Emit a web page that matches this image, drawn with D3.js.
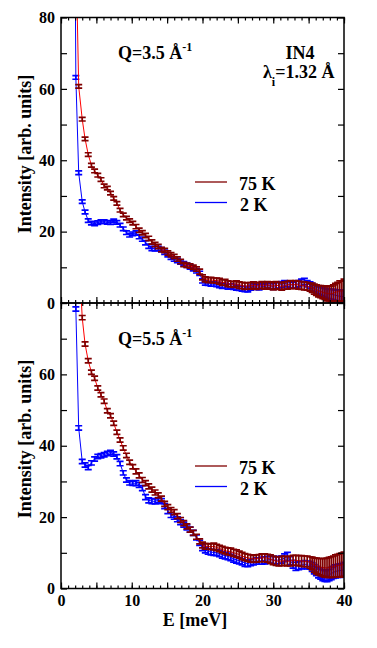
<!DOCTYPE html>
<html>
<head>
<meta charset="utf-8">
<script src="https://cdn.jsdelivr.net/npm/d3@7"></script>
<style>
body { margin: 0; background: #fff; }
text { font-family: "Liberation Serif", "Times New Roman", serif; font-weight: bold; }
</style>
</head>
<body>
<div class="chart"></div>
<script>
// energy transfer grid (meV), shared by all four runs
const energy = [
    1.8, 2.1, 2.5, 3.0, 3.4, 3.85, 4.3, 4.75, 5.2, 5.65,
    6.1, 6.55, 7.0, 7.45, 7.9, 8.35, 8.8, 9.25, 9.7, 10.15,
    10.6, 11.05, 11.5, 11.95, 12.4, 12.85, 13.3, 13.75, 14.2, 14.65,
    15.1, 15.55, 16.0, 16.45, 16.9, 17.35, 17.8, 18.25, 18.7, 19.15,
    19.6, 20.0, 20.4, 20.8, 21.2, 21.6, 22.0, 22.4, 22.8, 23.2,
    23.6, 24.0, 24.4, 24.8, 25.2, 25.6, 26.0, 26.4, 26.8, 27.2,
    27.6, 28.0, 28.4, 28.8, 29.2, 29.6, 30.0, 30.4, 30.8, 31.2,
    31.6, 32.0, 32.4, 32.8, 33.2, 33.6, 34.0, 34.4, 34.8, 35.2,
    35.5, 35.8, 36.1, 36.4, 36.7, 37.0, 37.3, 37.6, 37.9, 38.2,
    38.5, 38.8, 39.1, 39.4, 39.7, 40.0
];

// Q = 3.5 1/A
const q35_75K = [
    140, 100, 60.7, 51.5, 46.0, 41.6, 38.6, 37.0, 35.8, 34.6,
    32.8, 32.2, 30.8, 29.3, 27.9, 26.0, 24.7, 23.8, 23.1, 22.4,
    21.4, 20.4, 19.7, 18.9, 18.1, 17.1, 16.4, 15.8, 15.0, 14.7,
    14.0, 13.5, 13.0, 12.3, 11.6, 10.8, 10.6, 10.4, 10.0, 9.5,
    8.8, 7.2, 6.6, 6.4, 6.5, 6.3, 6.3, 6.1, 5.7, 5.8,
    5.4, 5.3, 5.2, 5.4, 5.0, 4.9, 4.7, 4.8, 4.8, 5.0,
    4.7, 4.9, 5.1, 4.8, 5.1, 4.9, 4.7, 5.0, 4.8, 4.6,
    4.9, 5.0, 5.2, 5.1, 5.2, 5.0, 4.9, 4.8, 4.7, 4.4,
    4.3, 3.9, 3.6, 3.3, 3.2, 3.0, 2.9, 2.6, 2.7, 2.5,
    2.8, 3.0, 3.2, 3.4, 3.3, 3.6
];
const q35_75K_err = [
    1, 1, 0.5, 0.5, 0.5, 0.5, 0.5, 0.5, 0.5, 0.5,
    0.5, 0.5, 0.5, 0.5, 0.5, 0.5, 0.5, 0.5, 0.5, 0.5,
    0.6, 0.6, 0.6, 0.6, 0.6, 0.6, 0.6, 0.6, 0.6, 0.6,
    0.6, 0.6, 0.6, 0.6, 0.6, 0.6, 0.6, 0.6, 0.6, 0.6,
    0.7, 0.7, 0.7, 0.7, 0.7, 0.7, 0.7, 0.8, 0.8, 0.8,
    0.8, 0.8, 0.8, 0.8, 0.9, 0.9, 0.9, 0.9, 0.9, 0.9,
    0.9, 0.9, 0.9, 0.9, 0.9, 1.0, 1.0, 1.0, 1.0, 1.0,
    1.0, 1.1, 1.1, 1.1, 1.1, 1.1, 1.1, 1.1, 1.1, 1.1,
    1.3, 1.4, 1.5, 1.6, 1.7, 1.8, 1.9, 2.0, 2.1, 2.2,
    2.3, 2.5, 2.6, 2.8, 2.9, 3.1
];
const q35_2K = [
    160, 63.2, 36.5, 28.4, 25.5, 23.1, 22.4, 22.2, 22.5, 22.8,
    22.8, 22.6, 22.5, 23.0, 22.6, 21.8, 20.8, 19.7, 19.0, 19.4,
    19.6, 18.6, 17.9, 16.9, 15.9, 15.3, 15.2, 15.3, 14.9, 14.2,
    13.5, 12.8, 12.3, 11.9, 11.5, 11.0, 10.6, 10.1, 9.6, 9.0,
    8.3, 6.2, 5.6, 5.5, 5.3, 5.3, 5.2, 5.0, 4.8, 4.9,
    4.6, 4.7, 4.5, 4.3, 4.2, 4.0, 3.9, 3.8, 4.3, 4.8,
    4.5, 4.4, 4.7, 4.6, 4.9, 4.8, 4.6, 4.9, 5.0, 5.2,
    5.5, 5.3, 5.1, 5.0, 5.2, 5.4, 5.8, 6.0, 5.4, 5.0,
    4.5, 4.1, 3.8, 3.5, 3.3, 3.0, 2.8, 2.6, 2.5, 2.4,
    2.3, 2.2, 2.0, 1.9, 1.8, 1.9
];
const q35_2K_err = [
    1, 0.5, 0.5, 0.5, 0.5, 0.5, 0.5, 0.5, 0.5, 0.5,
    0.5, 0.5, 0.5, 0.5, 0.5, 0.5, 0.5, 0.5, 0.5, 0.5,
    0.6, 0.6, 0.6, 0.6, 0.6, 0.6, 0.6, 0.6, 0.6, 0.6,
    0.6, 0.6, 0.6, 0.6, 0.6, 0.6, 0.6, 0.6, 0.6, 0.6,
    0.6, 0.6, 0.6, 0.6, 0.6, 0.6, 0.6, 0.7, 0.7, 0.7,
    0.7, 0.7, 0.7, 0.7, 0.7, 0.7, 0.7, 0.7, 0.7, 0.7,
    0.7, 0.7, 0.7, 0.7, 0.7, 0.8, 0.8, 0.8, 0.8, 0.8,
    0.8, 0.8, 0.8, 0.8, 0.9, 0.9, 0.9, 0.9, 0.9, 0.9,
    1.0, 1.0, 1.1, 1.1, 1.2, 1.2, 1.3, 1.3, 1.4, 1.4,
    1.5, 1.5, 1.6, 1.6, 1.7, 1.7
];

// Q = 5.5 1/A
const q55_75K = [
    160, 120, 95, 75.9, 68.5, 63.8, 60.6, 58.9, 56.2, 54.3,
    52.5, 49.8, 48.4, 46.3, 43.8, 41.6, 39.4, 37.3, 35.4, 34.1,
    32.8, 31.7, 30.4, 29.5, 28.6, 27.7, 26.9, 26.1, 25.2, 23.7,
    22.8, 22.0, 21.4, 20.3, 19.2, 18.3, 17.4, 16.5, 15.6, 14.5,
    13.2, 12.2, 11.8, 11.8, 11.7, 11.8, 11.5, 11.2, 10.9, 10.6,
    10.4, 10.3, 10.0, 9.8, 9.5, 9.1, 8.8, 8.6, 8.4, 8.3,
    8.4, 8.5, 8.6, 8.6, 8.5, 8.2, 7.9, 7.7, 7.6, 7.7,
    7.8, 7.6, 7.7, 7.9, 7.9, 7.8, 7.7, 7.6, 7.6, 7.3,
    7.0, 6.6, 6.3, 6.1, 6.0, 5.9, 5.8, 5.8, 5.9, 6.0,
    6.1, 6.3, 6.4, 6.5, 6.6, 6.8
];
const q55_75K_err = [
    1, 1, 1, 0.6, 0.6, 0.6, 0.6, 0.6, 0.6, 0.6,
    0.6, 0.6, 0.6, 0.6, 0.6, 0.6, 0.6, 0.6, 0.6, 0.6,
    0.7, 0.7, 0.7, 0.7, 0.7, 0.7, 0.7, 0.7, 0.7, 0.7,
    0.7, 0.7, 0.7, 0.7, 0.7, 0.7, 0.7, 0.7, 0.7, 0.7,
    0.7, 0.8, 0.8, 0.8, 0.8, 0.9, 0.9, 0.9, 0.9, 0.9,
    1.0, 1.0, 1.0, 1.0, 1.0, 1.0, 1.0, 1.0, 1.0, 1.0,
    1.0, 1.0, 1.1, 1.1, 1.1, 1.2, 1.2, 1.2, 1.3, 1.3,
    1.3, 1.3, 1.4, 1.4, 1.4, 1.4, 1.5, 1.5, 1.5, 1.6,
    1.8, 2.0, 2.2, 2.3, 2.4, 2.5, 2.6, 2.7, 2.8, 2.9,
    3.0, 3.1, 3.2, 3.3, 3.3, 3.4
];
const q55_2K = [
    150, 78.3, 45.0, 35.6, 34.6, 33.9, 35.2, 36.3, 37.0, 37.2,
    37.5, 37.8, 38.1, 37.7, 36.9, 35.0, 32.4, 30.4, 29.6, 29.5,
    29.5, 29.0, 28.1, 25.6, 24.7, 24.5, 24.4, 24.8, 24.5, 23.1,
    21.7, 20.6, 20.1, 19.4, 18.6, 17.9, 17.1, 16.5, 15.6, 14.3,
    12.8, 11.4, 10.8, 10.4, 10.2, 10.1, 10.0, 9.8, 9.4, 9.2,
    9.0, 8.7, 8.3, 8.0, 7.8, 7.5, 7.1, 7.0, 7.3, 7.5,
    7.7, 7.7, 7.8, 7.9, 8.0, 8.1, 8.0, 7.9, 8.0, 8.1,
    8.6, 9.0, 7.8, 6.8, 6.2, 6.4, 6.6, 6.7, 6.6, 6.5,
    6.0, 5.4, 4.9, 4.4, 4.0, 3.7, 3.5, 3.5, 3.8, 4.2,
    4.5, 4.8, 4.9, 5.0, 5.1, 5.3
];
const q55_2K_err = [
    1, 0.6, 0.6, 0.6, 0.6, 0.6, 0.6, 0.6, 0.6, 0.6,
    0.6, 0.6, 0.6, 0.6, 0.6, 0.6, 0.6, 0.6, 0.6, 0.6,
    0.7, 0.7, 0.7, 0.7, 0.7, 0.7, 0.7, 0.7, 0.7, 0.7,
    0.7, 0.7, 0.7, 0.7, 0.7, 0.7, 0.7, 0.7, 0.7, 0.7,
    0.7, 0.8, 0.8, 0.8, 0.8, 0.8, 0.8, 0.9, 0.9, 0.9,
    0.9, 0.9, 0.9, 0.9, 0.9, 0.9, 0.9, 0.9, 0.9, 0.9,
    0.9, 0.9, 1.0, 1.0, 1.0, 1.0, 1.0, 1.0, 1.0, 1.0,
    1.1, 1.1, 1.1, 1.1, 1.1, 1.1, 1.1, 1.1, 1.1, 1.1,
    1.2, 1.3, 1.3, 1.4, 1.4, 1.5, 1.5, 1.6, 1.6, 1.7,
    1.7, 1.8, 1.8, 1.9, 1.9, 2.0
];

const yTickLabels = [0, 20, 40, 60, 80];
const xTickLabels = [0, 10, 20, 30, 40];
const legendNames = ["75 K", "2 K"];

const w = 377;
const h = 648;
const left = 61
const right = 344

const svg = d3.select(".chart")
    .append("svg")
    .attr("width", w)
    .attr("height", h)

const x = d3.scaleLinear().domain([0, 40]).range([left, right]);

const panels = [
    { id: "p35", top: 17.5, bottom: 303, q: "3.5", hot: q35_75K, hotErr: q35_75K_err, cold: q35_2K, coldErr: q35_2K_err,
      labels: yTickLabels, legendY: 182, titleY: 154, qY: 59, xLabels: false },
    { id: "p55", top: 303, bottom: 588.5, q: "5.5", hot: q55_75K, hotErr: q55_75K_err, cold: q55_2K, coldErr: q55_2K_err,
      labels: yTickLabels.slice(0, 4), legendY: 466, titleY: 439, qY: 345, xLabels: true }
];

const colHotLine = "#ff0000";
const colHot = "#800000";
const colCold = "#0000ff";

panels.forEach(drawPanel);

function drawPanel(p) {
    const y = d3.scaleLinear().domain([0, 80]).range([p.bottom, p.top]);
    const g = svg.append("g");

    g.append("clipPath").attr("id", "clip-" + p.id)
        .append("rect")
        .attr("x", left).attr("y", p.top)
        .attr("width", right - left).attr("height", p.bottom - p.top);

    const plot = g.append("g").attr("clip-path", "url(#clip-" + p.id + ")");

    const line = d3.line()
        .x((d) => x(d.e))
        .y((d) => y(d.v));

    function series(vals, errs, lineCol, barCol) {
        const data = energy.map((e, i) => ({ e: e, v: vals[i], s: errs[i] }));
        plot.append("path")
            .datum(data)
            .attr("fill", "none")
            .attr("stroke", lineCol)
            .attr("stroke-width", 1)
            .attr("d", line);
        plot.append("g")
            .selectAll("path")
            .data(data)
            .enter()
            .append("path")
            .attr("fill", "none")
            .attr("stroke", barCol)
            .attr("stroke-width", 1.7)
            .attr("d", (d) => {
                const cx = x(d.e), y1 = y(d.v - d.s), y2 = y(d.v + d.s);
                return `M${cx - 3.5},${y2}H${cx + 3.5}M${cx},${y2}V${y1}M${cx - 3.5},${y1}H${cx + 3.5}`;
            });
    }

    series(p.cold, p.coldErr, colCold, colCold);
    series(p.hot, p.hotErr, colHotLine, colHot);

    // axes: ticks inward on all four sides
    const yAxisL = g.append("g").attr("transform", `translate(${left},0)`)
        .call(d3.axisLeft(y).tickValues(d3.range(0, 81, 10)).tickSize(-6).tickPadding(6)
            .tickFormat((d) => p.labels.includes(d) ? d : ""));
    const yAxisR = g.append("g").attr("transform", `translate(${right},0)`)
        .call(d3.axisRight(y).tickValues(d3.range(0, 81, 10)).tickSize(-6).tickFormat(""));

    const xb = y(0), xt = y(80);
    const xMajB = g.append("g").attr("transform", `translate(0,${xb})`)
        .call(d3.axisBottom(x).ticks(8).tickSize(-6).tickPadding(6)
            .tickFormat((d) => p.xLabels && xTickLabels.includes(d) ? d : ""));
    const xMinB = g.append("g").attr("transform", `translate(0,${xb})`)
        .call(d3.axisBottom(x).ticks(40).tickSize(-3).tickFormat(""));
    const xMajT = g.append("g").attr("transform", `translate(0,${xt})`)
        .call(d3.axisTop(x).ticks(8).tickSize(-6).tickFormat(""));
    const xMinT = g.append("g").attr("transform", `translate(0,${xt})`)
        .call(d3.axisTop(x).ticks(40).tickSize(-3).tickFormat(""));

    [yAxisL, yAxisR, xMajB, xMinB, xMajT, xMinT].forEach((a) => {
        a.select(".domain").remove();
        a.selectAll("line").attr("stroke", "#000").attr("stroke-width", 1.2);
        a.selectAll("text").attr("fill", "#000").style("font-size", "16px")
            .style("font-family", '"Liberation Serif", "Times New Roman", serif').style("font-weight", "bold");
    });

    g.append("rect")
        .attr("x", left).attr("y", p.top)
        .attr("width", right - left).attr("height", p.bottom - p.top)
        .attr("fill", "none").attr("stroke", "#000").attr("stroke-width", 1.5);

    // y title
    g.append("text")
        .attr("transform", `translate(31,${p.titleY}) rotate(-90)`)
        .attr("text-anchor", "middle")
        .style("font-size", "18px")
        .text("Intensity [arb. units]");

    // Q label
    const qt = g.append("text").attr("x", 118).attr("y", p.qY).style("font-size", "18px");
    qt.append("tspan").text("Q=" + p.q + " Å");
    qt.append("tspan").attr("dy", -8).style("font-size", "12px").text("-1");

    // legend
    const leg = g.append("g").attr("transform", `translate(195,${p.legendY})`)
        .selectAll("g")
        .data(legendNames)
        .enter()
        .append("g")
        .attr("transform", (d, i) => `translate(0,${i * 20.5})`);
    leg.append("line")
        .attr("x1", 0).attr("x2", 32)
        .attr("stroke", (d, i) => i === 0 ? colHot : colCold)
        .attr("stroke-width", 1.3);
    leg.append("text")
        .attr("x", (d, i) => i === 0 ? 44 : 45)
        .attr("y", 8)
        .style("font-size", "18px")
        .text((d) => d);
}

// instrument note
svg.append("text")
    .attr("x", 300).attr("y", 59)
    .attr("text-anchor", "middle")
    .style("font-size", "18px")
    .text("IN4");
const lam = svg.append("text")
    .attr("x", 263).attr("y", 78)
    .style("font-size", "18px");
lam.append("tspan").text("λ");
lam.append("tspan").attr("dy", 8).style("font-size", "12px").text("i");
lam.append("tspan").attr("dy", -8).text("=1.32 Å");

// x title
svg.append("text")
    .attr("x", 195).attr("y", 626)
    .attr("text-anchor", "middle")
    .style("font-size", "18px")
    .text("E [meV]");
</script>
</body>
</html>
